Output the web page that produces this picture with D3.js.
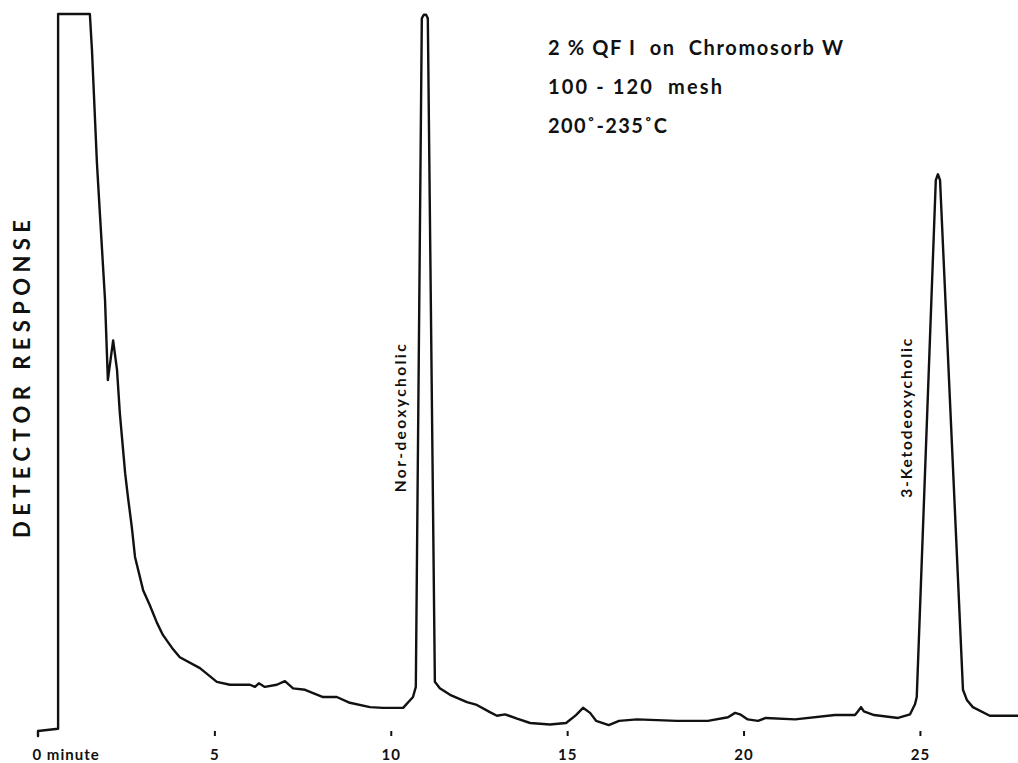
<!DOCTYPE html>
<html>
<head>
<meta charset="utf-8">
<script src="https://cdn.jsdelivr.net/npm/d3@7/dist/d3.min.js"></script>
<style>
  html, body { margin: 0; padding: 0; background: #fff; }
  svg { display: block; }
  text { font-family: "Lato", "DejaVu Sans", sans-serif; font-weight: 700; fill: #111; }
</style>
</head>
<body>
<div id="chart"></div>
<script>
// ---- data (retention time in minutes, detector response in % of full scale) ----
const timeMin = [
  0.00, 0.00, 0.57, 0.57, 1.47, 1.53, 1.67, 1.76, 1.90, 1.96, 1.98, 2.13, 2.24, 2.32,
  2.38, 2.47, 2.55, 2.66, 2.75, 2.98, 3.17, 3.37, 3.54, 3.80, 4.02, 4.59, 5.07, 5.44,
  6.01, 6.15, 6.26, 6.43, 6.77, 7.00, 7.23, 7.57, 8.08, 8.47, 8.84, 9.41, 9.78, 10.35,
  10.63, 10.71, 10.88, 10.94, 11.00, 11.05, 11.25, 11.39, 11.68, 12.16, 12.44, 12.81,
  13.01, 13.24, 13.58, 13.95, 14.51, 14.97, 15.25, 15.45, 15.65, 15.82, 16.18, 16.47,
  16.98, 18.11, 18.99, 19.56, 19.76, 19.90, 20.12, 20.41, 20.63, 21.46, 22.59, 23.16,
  23.24, 23.33, 23.41, 23.70, 24.38, 24.72, 24.86, 24.91, 25.45, 25.51, 25.57, 26.22,
  26.33, 26.50, 26.98, 27.78
];
const detectorResponse = [
  0.0, 0.7, 1.0, 100, 100, 95.0, 79.4, 71.9, 60.4, 52.1, 49.3, 54.8, 50.7, 44.7,
  41.4, 36.4, 33.1, 28.9, 24.8, 20.2, 18.1, 15.7, 14.0, 12.2, 10.9, 9.4, 7.5, 7.1,
  7.1, 6.8, 7.3, 6.8, 7.1, 7.6, 6.6, 6.4, 5.4, 5.4, 4.6, 4.0, 3.9, 3.9,
  5.4, 6.8, 99.4, 99.9, 99.9, 99.4, 7.5, 6.6, 5.7, 4.7, 4.3, 3.3,
  2.8, 3.0, 2.4, 1.8, 1.6, 1.8, 2.9, 3.9, 3.2, 2.1, 1.5, 2.1,
  2.3, 2.1, 2.1, 2.6, 3.2, 3.0, 2.3, 2.1, 2.5, 2.3, 2.9, 2.9,
  3.4, 4.0, 3.4, 2.9, 2.5, 3.0, 4.4, 5.4, 77.0, 77.8, 77.0, 6.4,
  5.0, 4.0, 2.8, 2.8
];
const xTickValues = [0, 5, 10, 15, 20, 25];
const xTickLabels = ["0 minute", "5", "10", "15", "20", "25"];
const peakNames = ["Nor-deoxycholic", "3-Ketodeoxycholic"];
const peakTimes = [10.94, 25.51];
const conditionLines = ["2 % QF I  on  Chromosorb W", "100 - 120  mesh", "200˚-235˚C"];
const yAxisTitle = "DETECTOR RESPONSE";

// ---- layout ----
const W = 1018, H = 763;
const svg = d3.select("#chart").append("svg").attr("width", W).attr("height", H);

const x = d3.scaleLinear().domain([0, 27.78]).range([38, 1018]);
const y = d3.scaleLinear().domain([0, 100]).range([736, 14]);

const pts = timeMin.map((t, i) => [t, detectorResponse[i]]);

svg.append("path")
  .datum(pts)
  .attr("fill", "none")
  .attr("stroke", "#111")
  .attr("stroke-width", 2.4)
  .attr("stroke-linejoin", "round")
  .attr("stroke-linecap", "round")
  .attr("d", d3.line().x(d => x(d[0])).y(d => y(d[1])));

// x axis ticks (no domain line)
const axisY = 731;
const ax = svg.append("g")
  .attr("transform", `translate(0,${axisY})`)
  .call(d3.axisBottom(x).tickValues(xTickValues).tickSize(5).tickPadding(13)
    .tickFormat((d, i) => xTickLabels[i]));
ax.select(".domain").remove();
ax.selectAll(".tick line").attr("stroke", "#111").attr("stroke-width", 2)
  .filter(d => d === 0).remove();
ax.selectAll(".tick text")
  .attr("fill", "#111")
  .style("font-size", "15px")
  .style("letter-spacing", "1px")
  .attr("dy", "0.71em")
  .filter(d => d === 0)
  .attr("text-anchor", "start")
  .attr("x", -6);

// y axis title
svg.append("text")
  .attr("transform", `translate(30,${(220 + 538) / 2}) rotate(-90)`)
  .attr("text-anchor", "middle")
  .attr("textLength", 318)
  .attr("lengthAdjust", "spacing")
  .style("font-size", "22px")
  .text(yAxisTitle);

// peak labels
const labelOffsets = [-18, -26];
const labelLengths = [148, 159];
peakNames.forEach((name, i) => {
  svg.append("text")
    .attr("transform", `translate(${x(peakTimes[i]) + labelOffsets[i]},${y(44)}) rotate(-90)`)
    .attr("text-anchor", "middle")
    .attr("textLength", labelLengths[i])
    .attr("lengthAdjust", "spacing")
    .style("font-size", "15.5px")
    .text(name);
});

// run conditions
const condLengths = [295, 174, 119];
const condBaselines = [55, 94, 133];
conditionLines.forEach((line, i) => {
  svg.append("text")
    .attr("x", 548)
    .attr("y", condBaselines[i])
    .attr("textLength", condLengths[i])
    .attr("lengthAdjust", "spacing")
    .style("font-size", "20px")
    .style("white-space", "pre")
    .text(line);
});
</script>
</body>
</html>
